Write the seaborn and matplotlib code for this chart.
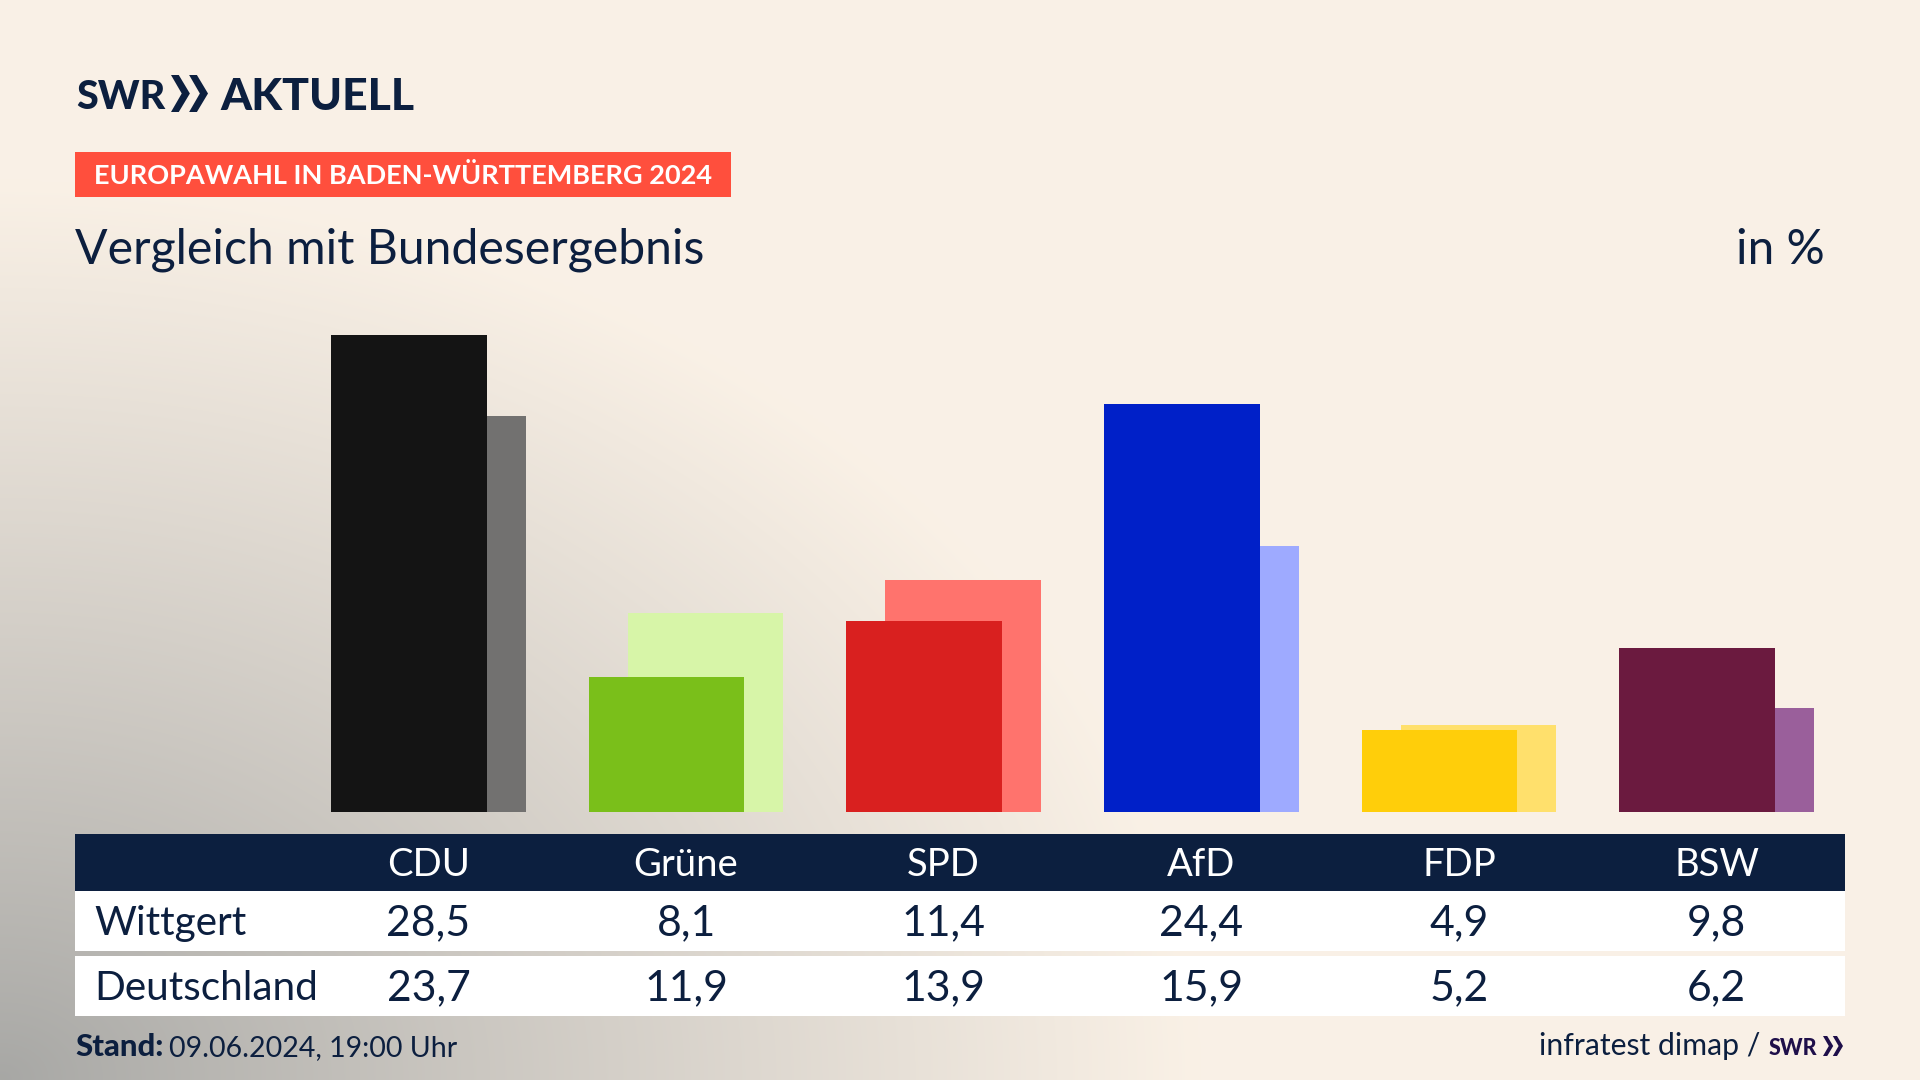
import numpy as np
import pandas as pd
import matplotlib
matplotlib.use("Agg")
import matplotlib.pyplot as plt
from matplotlib.patches import Rectangle, Polygon
from matplotlib.transforms import blended_transform_factory
import seaborn as sns

parties = ["CDU", "Grüne", "SPD", "AfD", "FDP", "BSW"]
wittgert = [28.5, 8.1, 11.4, 24.4, 4.9, 9.8]
deutschland = [23.7, 11.9, 13.9, 15.9, 5.2, 6.2]
front_colors = ["#141414", "#7abf1a", "#d9201f", "#0020c8", "#ffce0a", "#6b1a3f"]
back_colors = ["#727170", "#d7f5a8", "#ff736d", "#9eaaff", "#ffe06c", "#9a5f9b"]
row_names = ["Wittgert", "Deutschland"]

NAVY = "#0c1f3f"
W, H = 1920, 1080
sns.set_theme(style="white")
plt.rcParams["font.family"] = ["Lato", "DejaVu Sans"]

fig = plt.figure(figsize=(19.2, 10.8), dpi=100)

# page layer in pixel coordinates
page = fig.add_axes([0, 0, 1, 1], zorder=0)
page.set_xlim(0, W)
page.set_ylim(H, 0)
page.axis("off")

# background glow from the lower left corner
xx, yy = np.meshgrid(np.linspace(0, W, 480), np.linspace(0, H, 270))
d = np.sqrt((xx / 1200) ** 2 + ((H - yy) / 900) ** 2)
t = np.clip(d, 0, 1) ** 0.9
gray = np.array([0.655, 0.655, 0.645])
cream = np.array([0.980, 0.945, 0.902])
img = gray + (cream - gray) * t[..., None]
page.imshow(img, extent=(0, W, H, 0), aspect="auto", zorder=0, interpolation="bilinear")

def box(x0, y0, x1, y1, color):
    page.add_patch(Rectangle((x0, y0), x1 - x0, y1 - y0, fc=color, ec="none", zorder=1))

def label(x, y, s, size, color=NAVY, ha="left", weight="normal", trans=None):
    return page.text(x, y, s, fontsize=size, color=color, ha=ha, va="baseline",
                     fontweight=weight, zorder=3, transform=trans or page.transData)

def chevrons(x0, y0, x1, y1, color):
    w = (x1 - x0) / 2
    for k in range(2):
        a = x0 + k * w * 0.98
        n = w * 0.42
        page.add_patch(Polygon([(a, y0), (a + n, y0), (a + w * 1.02, (y0 + y1) / 2), (a + n, y1), (a, y1),
                                (a + w * 0.58, (y0 + y1) / 2)], closed=True, fc=color, ec="none", zorder=3))

# header
label(76, 109, "SWR", 28.5, weight="black")
chevrons(171, 75, 208, 112, NAVY)
label(220, 110, "AKTUELL", 32, weight="black")
box(75, 152, 731, 197, "#ff4f3d")
label(94, 184, "EUROPAWAHL IN BADEN-WÜRTTEMBERG 2024", 19.5, color="white", weight="bold")
label(75, 264, "Vergleich mit Bundesergebnis", 34.7)
label(1825, 264, "in %", 34.4, ha="right")

# bars: one category step is 257.6 px, the lighter bar sits 39 px to the right
STEP = 257.6
FIRST = 409.0
SHIFT = 39.0 / STEP
BAR = 155.6 / STEP
PX_PER_UNIT = 16.72
BASE = 812.0
TOP = 300.0
L, R = 75.0, 1845.0

bars = fig.add_axes([L / W, 1 - BASE / H, (R - L) / W, (BASE - TOP) / H], zorder=2)
bars.patch.set_alpha(0)
idx = np.arange(len(parties), dtype=float)
df = pd.DataFrame({"party": parties, "idx": idx, "bw": wittgert, "de": deutschland})

sns.barplot(data=df, x=df["idx"] + SHIFT, y="de", hue="party", palette=back_colors, hue_order=parties,
            native_scale=True, dodge=False, width=BAR, saturation=1, legend=False, ax=bars, linewidth=0)
sns.barplot(data=df, x="idx", y="bw", hue="party", palette=front_colors, hue_order=parties,
            native_scale=True, dodge=False, width=BAR, saturation=1, legend=False, ax=bars, linewidth=0)
bars.set_xlim((L - FIRST) / STEP, (R - FIRST) / STEP)
bars.set_ylim(0, (BASE - TOP) / PX_PER_UNIT)
bars.set_axis_off()

# table
box(L, 834, R, 891, NAVY)
box(L, 891, R, 951, "white")
box(L, 956, R, 1016, "white")
tx = blended_transform_factory(bars.transData, page.transData)
fmt = lambda v: f"{v:.1f}".replace(".", ",")
label(94, 935, row_names[0], 29.2)
label(94, 1000, row_names[1], 29.2)
for i, party in enumerate(parties):
    cx = i + SHIFT / 2
    label(cx, 876, party, 27.5, color="white", ha="center", trans=tx)
    label(cx, 935, fmt(wittgert[i]), 30.8, ha="center", trans=tx)
    label(cx, 1000, fmt(deutschland[i]), 30.8, ha="center", trans=tx)

# footer
label(75, 1056, "Stand:", 22.4, weight="black")
label(169, 1056, "09.06.2024, 19:00 Uhr", 20.5)
label(1760, 1055, "infratest dimap /", 21.7, ha="right")
label(1769, 1055, "SWR", 15.5, color="#1f0f4a", weight="black")
chevrons(1823, 1036, 1843, 1056, "#1f0f4a")

fig.savefig("out.png", dpi=100)
